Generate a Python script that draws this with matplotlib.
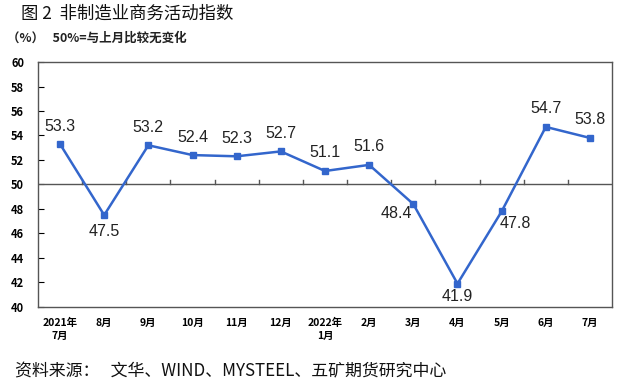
import matplotlib
matplotlib.use("Agg")
import matplotlib.pyplot as plt

plt.rcParams['font.family'] = ['Noto Sans CJK SC', 'DejaVu Sans']

months = ["2021年\n7月", "8月", "9月", "10月", "11月", "12月", "2022年\n1月",
          "2月", "3月", "4月", "5月", "6月", "7月"]
values = [53.3, 47.5, 53.2, 52.4, 52.3, 52.7, 51.1, 51.6, 48.4, 41.9, 47.8, 54.7, 53.8]
# label offsets in points (dx, dy)
offsets = [(0, 13), (0, -12), (0, 13), (0, 13), (0, 13), (0, 13), (0, 13),
           (0, 13), (-12, -7), (0, -9), (10, -9), (0, 13), (0, 13)]

fig = plt.figure(figsize=(6.22, 3.90), dpi=100)
ax = fig.add_axes([0.061, 0.213, 0.923, 0.628])

x = list(range(len(values)))
ax.plot(x, values, color='#3366CC', linewidth=1.8, marker='s', markersize=5,
        markerfacecolor='#3366CC', markeredgecolor='#3366CC', zorder=3)
ax.axhline(50, color='#555555', linewidth=1.0, zorder=2)
# category boundary ticks on the 50 line
for b in range(1, len(values)):
    ax.plot([b - 0.5, b - 0.5], [50, 50.35], color='#555555', linewidth=1.0, zorder=2)

for xi, v, (dx, dy) in zip(x, values, offsets):
    ax.annotate(f"{v:.1f}", (xi, v), xytext=(dx, dy), textcoords='offset points',
                ha='center', va='center', fontsize=11.5, family=['Liberation Sans'], color='#222222')

ax.set_xlim(-0.5, len(values) - 0.5)
ax.set_ylim(40, 60)
ax.set_yticks(range(40, 61, 2))
ax.set_xticks(x)
ax.set_xticklabels(months, fontsize=7.5, fontweight='bold', linespacing=1.3)
ax.tick_params(axis='x', length=0, pad=8)
ax.tick_params(axis='y', direction='in', length=4, labelsize=8, pad=10)
for lab in ax.get_yticklabels():
    lab.set_fontweight('bold')
for s in ax.spines.values():
    s.set_color('#555555')
    s.set_linewidth(1.0)

fig.text(0.034, 0.964, "图 2  非制造业商务活动指数", fontsize=12.5, va='center', ha='left', color='#111111')
fig.text(0.011, 0.902, "（%）   50%=与上月比较无变化", fontsize=9, va='center', ha='left',
         fontweight='bold', color='#222222')
fig.text(0.024, 0.047, "资料来源：   文华、WIND、MYSTEEL、五矿期货研究中心", fontsize=12.2,
         va='center', ha='left', color='#111111')

fig.savefig("out.png", dpi=100)
